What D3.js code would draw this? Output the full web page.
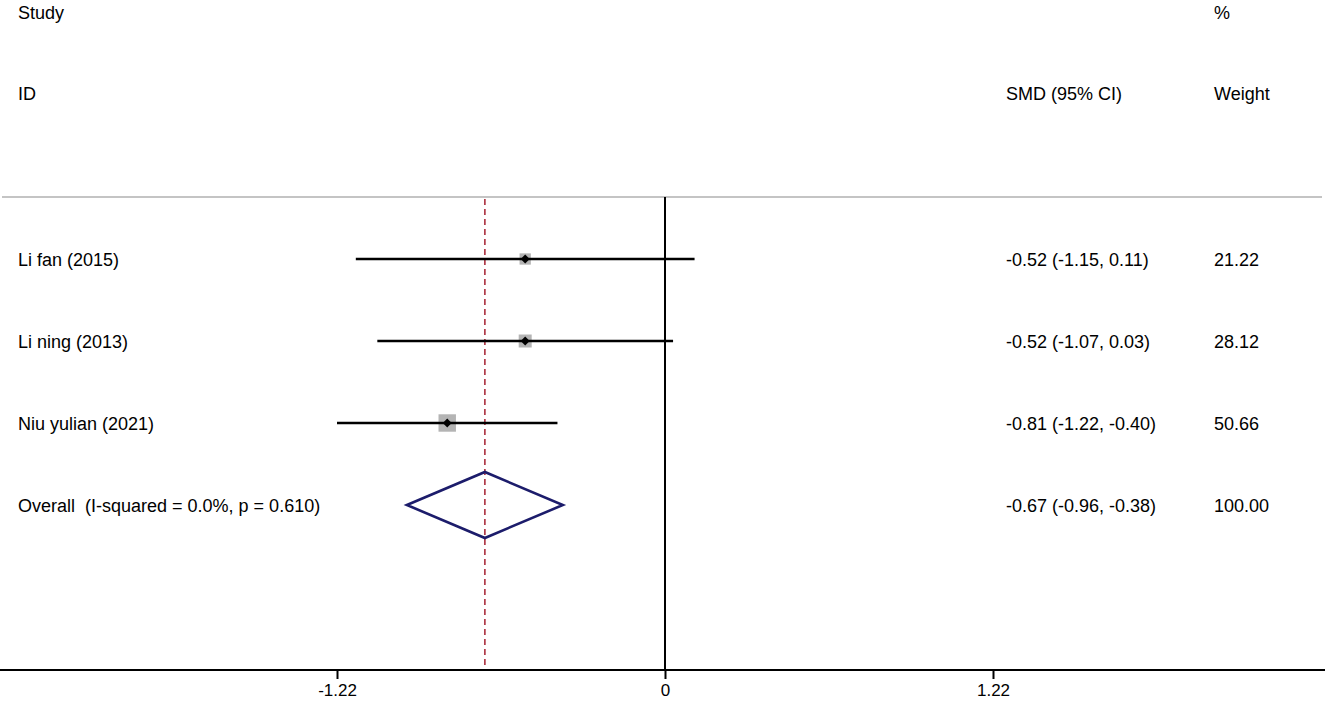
<!DOCTYPE html>
<html lang="en">
<head>
<meta charset="UTF-8">
<title>Forest plot</title>
<style>
body { margin: 0; background: #fff; }
text { font-family: "Liberation Sans", Arial, sans-serif; font-size: 18px; fill: #000; }
</style>
</head>
<body>
<svg id="main" width="1325" height="707"></svg>
<script src="https://cdn.jsdelivr.net/npm/d3@7/dist/d3.min.js"></script>
<script>
// study data
var studies = ["Li fan (2015)", "Li ning (2013)", "Niu yulian (2021)"];
var smd = [-0.52, -0.52, -0.81];
var lower = [-1.15, -1.07, -1.22];
var upper = [0.11, 0.03, -0.40];
var weights = [21.22, 28.12, 50.66];

var overallLabel = "Overall\u00a0\u00a0(I-squared = 0.0%, p = 0.610)";
var overall = { est: -0.67, lo: -0.96, hi: -0.38, weight: 100.00 };

var tickValues = [-1.22, 0, 1.22];
var tickLabels = ["-1.22", "0", "1.22"];

// plain hyphen for negatives, like the original
var f2 = function(v) { return v.toFixed(2); };
var ci = function(e, l, h) { return f2(e) + " (" + f2(l) + ", " + f2(h) + ")"; };

var svg = d3.select("#main");

var x = d3.scaleLinear().domain([-1.22, 1.22]).range([337, 993]);
var rows = studies.concat([overallLabel]);
var y = d3.scalePoint().domain(d3.range(rows.length)).range([259, 505]);

var topY = 197, axisY = 670;

// headers
svg.append("text").attr("x", 18).attr("y", 19).text("Study");
svg.append("text").attr("x", 18).attr("y", 100).text("ID");
svg.append("text").attr("x", 1006).attr("y", 100).text("SMD (95% CI)");
svg.append("text").attr("x", 1214).attr("y", 19).text("%");
svg.append("text").attr("x", 1214).attr("y", 100).text("Weight");

// grey separator
svg.append("line")
    .attr("x1", 2).attr("x2", 1322)
    .attr("y1", topY).attr("y2", topY)
    .attr("stroke", "#c4c4c4").attr("stroke-width", 2);

// null line
svg.append("line")
    .attr("x1", x(0)).attr("x2", x(0))
    .attr("y1", topY).attr("y2", axisY)
    .attr("stroke", "#000").attr("stroke-width", 2);

// overall effect dashed line
svg.append("line")
    .attr("x1", x(overall.est)).attr("x2", x(overall.est))
    .attr("y1", topY + 2).attr("y2", axisY)
    .attr("stroke", "#b03a48").attr("stroke-width", 1.7)
    .attr("stroke-dasharray", "6,4");

// x axis
var axis = d3.axisBottom(x)
    .tickValues(tickValues)
    .tickFormat(function(d, i) { return tickLabels[i]; })
    .tickSize(9)
    .tickPadding(5);

var gAxis = svg.append("g").attr("transform", "translate(0," + axisY + ")").call(axis);
gAxis.select(".domain").remove();
gAxis.selectAll(".tick line").attr("stroke", "#000").attr("stroke-width", 2);
gAxis.selectAll(".tick text")
    .style("font-family", "'Liberation Sans', Arial, sans-serif")
    .style("font-size", "17px").attr("fill", "#000");
svg.append("line")
    .attr("x1", 0).attr("x2", 1325)
    .attr("y1", axisY).attr("y2", axisY)
    .attr("stroke", "#000").attr("stroke-width", 2);

// studies
var g = svg.append("g");
studies.forEach(function(s, i) {
    var yy = y(i);
    var side = 2.45 * Math.sqrt(weights[i]);
    g.append("rect")
        .attr("x", x(smd[i]) - side / 2).attr("y", yy - side / 2)
        .attr("width", side).attr("height", side)
        .attr("fill", "#b4b4b4");
    g.append("line")
        .attr("x1", x(lower[i])).attr("x2", x(upper[i]))
        .attr("y1", yy).attr("y2", yy)
        .attr("stroke", "#000").attr("stroke-width", 2.6);
    g.append("path")
        .attr("d", d3.symbol().type(d3.symbolSquare).size(40)())
        .attr("transform", "translate(" + x(smd[i]) + "," + yy + ") rotate(45)")
        .attr("fill", "#000");
    g.append("text").attr("x", 18).attr("y", yy + 7).text(s);
    g.append("text").attr("x", 1006).attr("y", yy + 7).text(ci(smd[i], lower[i], upper[i]));
    g.append("text").attr("x", 1214).attr("y", yy + 7).text(f2(weights[i]));
});

// overall diamond
var oy = y(studies.length);
var dh = 33;
svg.append("path")
    .attr("d", "M" + x(overall.lo) + "," + oy +
        "L" + x(overall.est) + "," + (oy - dh) +
        "L" + x(overall.hi) + "," + oy +
        "L" + x(overall.est) + "," + (oy + dh) + "Z")
    .attr("fill", "none")
    .attr("stroke", "#1c1c6b").attr("stroke-width", 2.6);
svg.append("text").attr("x", 18).attr("y", oy + 7).text(overallLabel);
svg.append("text").attr("x", 1006).attr("y", oy + 7).text(ci(overall.est, overall.lo, overall.hi));
svg.append("text").attr("x", 1214).attr("y", oy + 7).text(f2(overall.weight));
</script>
</body>
</html>
